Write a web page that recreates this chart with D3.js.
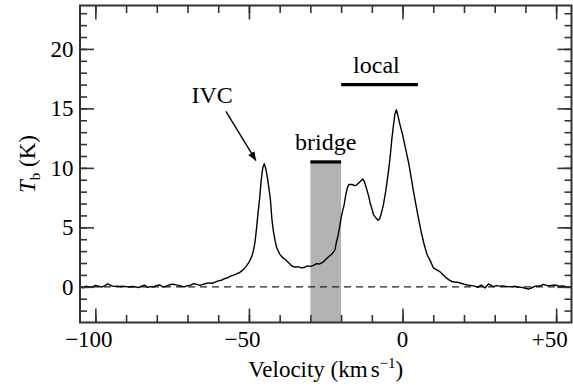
<!DOCTYPE html>
<html>
<head>
<meta charset="utf-8">
<script src="https://cdn.jsdelivr.net/npm/d3@7"></script>
</head>
<body style="margin:0;padding:0;background:#fff;">
<svg id="chart" width="573" height="391" style="display:block;"></svg>
<script>
// HI spectrum: velocity (km/s) and brightness temperature (K)
const velocity = [
  -105, -104, -103, -102, -101, -100, -99, -98, -97, -96, -95, -94, -93, -92, -91, -90,
  -89, -88, -87, -86, -85, -84, -83, -82, -81, -80, -79, -78, -77, -76, -75, -74, -73,
  -72, -71, -70, -69, -68, -67, -66, -65, -64, -63, -62, -61, -60, -59, -58, -57, -56,
  -55, -54, -53, -52, -51, -50, -49, -48.5, -48, -47.5, -47, -46.5, -46, -45.5, -45,
  -44.5, -44, -43.5, -43, -42.5, -42, -41.5, -41, -40, -39, -38, -37, -36, -35, -34,
  -33, -32, -31, -30, -29, -28, -27, -26, -25, -24, -23, -22, -21.5, -21, -20.5, -20,
  -19.5, -19, -18.5, -18, -17.5, -16.5, -15.5, -15, -14, -13, -12.5, -12, -11, -10.5,
  -10, -9.5, -9, -8, -7.5, -7, -6.3, -5.5, -5, -4.5, -4, -3.5, -3, -2.5, -2, -1.5, -1,
  0, 0.5, 1, 2, 3, 3.5, 4, 5, 6, 7, 8, 9, 10, 11, 12, 13, 14, 15, 16, 17, 18, 19, 20,
  21, 22, 23, 24, 24.5, 25, 25.7, 26.8, 28, 29.5, 30.5, 31.5, 32.8, 34, 35.5, 36.5,
  37.5, 38.8, 40, 41, 42, 43.5, 44.5, 45.8, 47.4, 48.5, 49.6, 51, 52.3, 53.5, 54.7
];
const brightness = [
  0.02, -0.08, 0.05, 0.0, -0.02, 0.12, 0.05, -0.02, 0.08, 0.25, 0.12, 0.04, 0.06, 0.03, 0.05, 0.02,
  -0.01, 0.03, 0.0, -0.06, 0.05, 0.14, -0.05, 0.02, 0.0, 0.12, 0.15, -0.02, 0.05, 0.15, 0.22, 0.18, 0.12,
  0.05, 0.0, 0.1, 0.14, 0.26, 0.2, 0.12, 0.2, 0.28, 0.33, 0.3, 0.4, 0.5, 0.55, 0.68, 0.75, 0.9,
  0.98, 1.08, 1.22, 1.4, 1.7, 2.05, 2.6, 3.1, 3.8, 5.0, 6.3, 7.5, 9.0, 10.0, 10.35,
  9.9, 9.2, 8.3, 7.3, 5.6, 4.6, 3.9, 3.3, 2.75, 2.45, 2.25, 2.0, 1.75, 1.65, 1.7,
  1.6, 1.62, 1.75, 1.72, 1.8, 1.95, 1.92, 2.05, 2.3, 2.55, 2.75, 3.1, 3.8, 4.3, 5.0, 5.8,
  6.4, 6.9, 7.7, 8.3, 8.6, 8.6, 8.5, 8.55, 8.8, 9.06, 8.9, 8.5, 7.6, 7.0,
  6.6, 6.1, 5.9, 5.6, 5.7, 6.1, 6.8, 8.0, 8.9, 9.9, 11.0, 12.4, 13.5, 14.5, 14.88, 14.4, 13.8,
  12.8, 12.2, 11.6, 10.4, 8.9, 8.1, 7.4, 6.0, 4.7, 3.6, 2.7, 2.2, 1.6, 1.45, 1.3, 1.05, 0.8, 0.6, 0.45, 0.4, 0.38, 0.3, 0.22,
  0.15, 0.12, 0.08, 0.02, -0.05, 0.05, 0.14, -0.1, 0.24, 0.02, 0.1, 0.06, 0.08, 0.02, 0.0, 0.06,
  -0.02, -0.05, -0.12, -0.2, -0.08, 0.08, 0.05, 0.2, 0.08, 0.12, 0.15, 0.05, 0.08, 0.0, -0.02
];

// Axis extents and ticks
const xDomain = [-105, 55];
const yDomain = [-3, 23.65];
const xMajorTicks = [-100, -50, 0, 50];
const xTickLabels = ["\u2212100", "\u221250", "0", "+50"];
const xMinorTicks = d3.range(-100, 51, 10);
const yMajorTicks = [0, 5, 10, 15, 20];
const yMinorTicks = d3.range(-2, 24, 1);

// Velocity ranges marked on the plot
const bridgeRange = [-30, -20];
const bridgeTop = 10.5;
const localRange = [-20, 5];
const localLevel = 17;

// Annotation labels: [text, velocity, Tb]
const labels = [
  ["IVC", -62, 15.45],
  ["bridge", -25, 11.5],
  ["local", -8.5, 17.95]
];
// IVC arrow from label to peak: [[v0, T0], [v1, T1]]
const ivcArrow = [[-57.5, 14.75], [-47.7, 10.6]];

const plotLeft = 80, plotRight = 571.5, plotTop = 5.5, plotBottom = 322.5;
const serif = '"Liberation Serif"';
const svg = d3.select("#chart");

// every text element gets the serif face directly
function addText(parent) {
  return parent.append("text")
    .style("font-family", serif)
    .attr("fill", "#000");
}

const x = d3.scaleLinear().domain(xDomain).range([plotLeft, plotRight]);
const y = d3.scaleLinear().domain(yDomain).range([plotBottom, plotTop]);

svg.append("defs").append("marker")
  .attr("id", "arrowhead")
  .attr("viewBox", "0 0 10 10")
  .attr("refX", 10).attr("refY", 5)
  .attr("markerWidth", 9).attr("markerHeight", 9)
  .attr("markerUnits", "userSpaceOnUse")
  .attr("orient", "auto")
  .append("path").attr("d", "M0,1 L10,5 L0,9 Z").attr("fill", "#000");

// Bridge velocity band
svg.append("rect")
  .attr("x", x(bridgeRange[0]))
  .attr("y", y(bridgeTop))
  .attr("width", x(bridgeRange[1]) - x(bridgeRange[0]))
  .attr("height", plotBottom - y(bridgeTop))
  .attr("fill", "#b3b3b3");

// Zero line
svg.append("line")
  .attr("x1", plotLeft).attr("x2", plotRight)
  .attr("y1", y(0)).attr("y2", y(0))
  .attr("stroke", "#222").attr("stroke-width", 1.3)
  .attr("stroke-dasharray", "7,5");

// Spectrum
const pts = velocity.map((v, i) => [v, brightness[i]]);
svg.append("path")
  .datum(pts)
  .attr("fill", "none")
  .attr("stroke", "#000")
  .attr("stroke-width", 1.4)
  .attr("stroke-linejoin", "round")
  .attr("d", d3.line().x(d => x(d[0])).y(d => y(d[1])));

// Range bars
svg.append("line")
  .attr("x1", x(bridgeRange[0])).attr("x2", x(bridgeRange[1]))
  .attr("y1", y(bridgeTop)).attr("y2", y(bridgeTop))
  .attr("stroke", "#000").attr("stroke-width", 3.2);
svg.append("line")
  .attr("x1", x(localRange[0])).attr("x2", x(localRange[1]))
  .attr("y1", y(localLevel)).attr("y2", y(localLevel))
  .attr("stroke", "#000").attr("stroke-width", 3.2);

// Labels
labels.forEach(d => {
  addText(svg)
    .attr("x", x(d[1]))
    .attr("y", y(d[2]))
    .attr("text-anchor", "middle")
    .attr("font-size", 24)
    .text(d[0]);
});

svg.append("line")
  .attr("x1", x(ivcArrow[0][0])).attr("y1", y(ivcArrow[0][1]))
  .attr("x2", x(ivcArrow[1][0])).attr("y2", y(ivcArrow[1][1]))
  .attr("stroke", "#000").attr("stroke-width", 1.4)
  .attr("marker-end", "url(#arrowhead)");

// Axes frame with inward ticks
const frameColor = "#333";
const axisG = svg.append("g");
function tickAxis(axisFn, scale, ticks, size, transform) {
  const g = axisG.append("g").attr("transform", transform)
    .call(axisFn(scale).tickValues(ticks).tickSize(size).tickFormat(""));
  g.select(".domain").remove();
  g.selectAll(".tick text").remove();
  g.selectAll(".tick line").attr("stroke", frameColor).attr("stroke-width", 1.6);
  return g;
}
// bottom / top
tickAxis(d3.axisTop, x, xMinorTicks, 7.5, `translate(0,${plotBottom})`);
tickAxis(d3.axisTop, x, xMajorTicks, 14, `translate(0,${plotBottom})`);
tickAxis(d3.axisBottom, x, xMinorTicks, 7.5, `translate(0,${plotTop})`);
tickAxis(d3.axisBottom, x, xMajorTicks, 14, `translate(0,${plotTop})`);
// left / right
tickAxis(d3.axisRight, y, yMinorTicks, 7, `translate(${plotLeft},0)`);
tickAxis(d3.axisRight, y, yMajorTicks, 14, `translate(${plotLeft},0)`);
tickAxis(d3.axisLeft, y, yMinorTicks, 7, `translate(${plotRight},0)`);
tickAxis(d3.axisLeft, y, yMajorTicks, 14, `translate(${plotRight},0)`);

svg.append("rect")
  .attr("x", plotLeft).attr("y", plotTop)
  .attr("width", plotRight - plotLeft).attr("height", plotBottom - plotTop)
  .attr("fill", "none").attr("stroke", frameColor).attr("stroke-width", 2);

// Tick labels: digits centred on the tick, sign hanging to the left
const fs = 23;
xMajorTicks.forEach((t, i) => {
  const lab = xTickLabels[i];
  const sign = /^[\u2212+]/.test(lab) ? lab[0] : "";
  const digits = sign ? lab.slice(1) : lab;
  const dt = addText(svg)
    .attr("x", x(t)).attr("y", 346.5)
    .attr("text-anchor", "middle").attr("font-size", fs)
    .text(digits);
  if (sign) {
    const w = dt.node().getComputedTextLength();
    addText(svg)
      .attr("x", x(t) - w / 2).attr("y", 346.5)
      .attr("text-anchor", "end").attr("font-size", fs)
      .text(sign);
  }
});
yMajorTicks.forEach(t => {
  addText(svg)
    .attr("x", 73.5).attr("y", y(t) + 8)
    .attr("text-anchor", "end").attr("font-size", fs)
    .text(t);
});

// Axis titles
const xt = addText(svg)
  .attr("x", (plotLeft + plotRight) / 2).attr("y", 377)
  .attr("text-anchor", "middle").attr("font-size", fs);
xt.append("tspan").style("font-family", serif).text("Velocity (km");
xt.append("tspan").style("font-family", serif).attr("dx", 3).text("s");
xt.append("tspan").style("font-family", serif).attr("font-size", 15).attr("dy", -9).text("\u22121");
xt.append("tspan").style("font-family", serif).attr("dy", 9).text(")");

const yt = addText(svg)
  .attr("transform", `translate(35,${(plotTop + plotBottom) / 2}) rotate(-90)`)
  .attr("text-anchor", "middle").attr("font-size", fs);
yt.append("tspan").style("font-family", serif).attr("font-style", "italic").text("T");
yt.append("tspan").style("font-family", serif).attr("font-size", 15).attr("dy", 5).text("b");
yt.append("tspan").style("font-family", serif).attr("dy", -5).text(" (K)");
</script>
</body>
</html>
